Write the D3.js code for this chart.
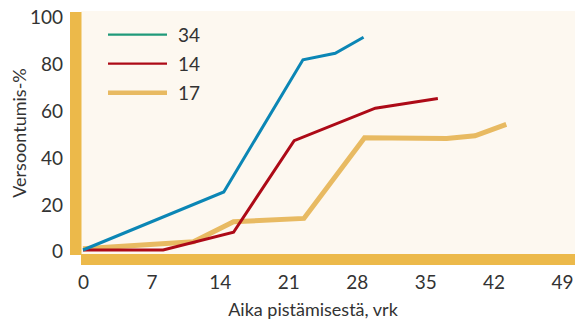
<!DOCTYPE html>
<html>
<head>
<meta charset="utf-8">
<script src="https://cdn.jsdelivr.net/npm/d3@7"></script>
<style>
  html, body { margin: 0; padding: 0; background: #ffffff; }
  svg { display: block; }
  text { font-family: Lato, "Noto Sans", sans-serif; fill: #333333; }
</style>
</head>
<body>
<svg id="chart" width="575" height="321"></svg>
<script>
// Germination (%) against days since planting, three seed lots
const seriesNames = ["34", "14", "17"];
const seriesColors = ["#0b86b5", "#ad0a17", "#e8ba62"];
const legendColors = ["#1f9a7a", "#ad0a17", "#e8ba62"];
const seriesWidths = [3, 3, 5];
const legendWidths = [2.2, 2.2, 4.5];

const days34 = [0, 14.4, 22.5, 25.8, 28.7];
const pct34  = [0, 24.8, 81.3, 84.1, 90.9];

const days14 = [0, 8.2, 15.4, 21.6, 29.9, 36.3];
const pct14  = [0, 0, 7.6, 46.7, 60.6, 64.7];

const days17 = [0, 11.3, 15.4, 22.6, 28.8, 37.2, 40.1, 43.3];
const pct17  = [0.5, 3.5, 12.1, 13.5, 48, 47.7, 48.8, 53.7];

const xTicks = [0, 7, 14, 21, 28, 35, 42, 49];
const yTicks = [0, 20, 40, 60, 80, 100];
const xTitle = "Aika pistämisestä, vrk";
const yTitle = "Versoontumis-%";

const series = [
  { name: seriesNames[0], days: days34, pct: pct34 },
  { name: seriesNames[1], days: days14, pct: pct14 },
  { name: seriesNames[2], days: days17, pct: pct17 }
];

const svg = d3.select("#chart");
const x = d3.scaleLinear().domain([0, 49]).range([83, 562]);
const y = d3.scaleLinear().domain([0, 100]).range([250, 16]);

// plot background
svg.append("rect")
  .attr("x", 81).attr("y", 11)
  .attr("width", 575 - 81).attr("height", 254 - 11)
  .attr("fill", "#fdf8f0");

// heavy axis bars
svg.append("rect")
  .attr("x", 70).attr("y", 12)
  .attr("width", 11.5).attr("height", 255 - 12)
  .attr("fill", "#ecb94a");
svg.append("rect")
  .attr("x", 81).attr("y", 254)
  .attr("width", 575 - 81).attr("height", 11)
  .attr("fill", "#ecb94a");

// axes (labels only)
const xAxis = svg.append("g")
  .attr("transform", "translate(0,270)")
  .call(d3.axisBottom(x).tickValues(xTicks).tickSize(0).tickPadding(6).tickFormat(d3.format("d")));
xAxis.select(".domain").remove();
xAxis.selectAll("text")
  .attr("font-size", 19).attr("font-family", "Lato, 'Noto Sans', sans-serif")
  .attr("fill", "#333");

const yAxis = svg.append("g")
  .attr("transform", "translate(63,0)")
  .call(d3.axisLeft(y).tickValues(yTicks).tickSize(0).tickPadding(0).tickFormat(d3.format("d")));
yAxis.select(".domain").remove();
yAxis.selectAll("text")
  .attr("font-size", 19).attr("font-family", "Lato, 'Noto Sans', sans-serif")
  .attr("fill", "#333")
  .attr("dy", "0.42em");

// axis titles
svg.append("text")
  .attr("x", 313).attr("y", 316)
  .attr("text-anchor", "middle")
  .attr("font-size", 18)
  .text(xTitle);
svg.append("text")
  .attr("transform", "translate(26,133) rotate(-90)")
  .attr("text-anchor", "middle")
  .attr("font-size", 18)
  .text(yTitle);

// series lines
const line = d3.line().x(d => x(d[0])).y(d => y(d[1]));
const lineOrder = [2, 1, 0];
lineOrder.forEach(i => {
  const s = series[i];
  const pts = s.days.map((d, j) => [d, s.pct[j]]);
  svg.append("path")
    .datum(pts)
    .attr("d", line)
    .attr("fill", "none")
    .attr("stroke", seriesColors[i])
    .attr("stroke-width", seriesWidths[i])
    .attr("stroke-linejoin", "miter");
});

// legend
const legend = svg.append("g");
seriesNames.forEach((name, i) => {
  const ly = 34.7 + i * 29;
  legend.append("line")
    .attr("x1", 108).attr("x2", 167)
    .attr("y1", ly).attr("y2", ly)
    .attr("stroke", legendColors[i])
    .attr("stroke-width", legendWidths[i]);
  legend.append("text")
    .attr("x", 178).attr("y", ly)
    .attr("dy", "0.36em")
    .attr("font-size", 19)
    .text(name);
});
</script>
</body>
</html>
